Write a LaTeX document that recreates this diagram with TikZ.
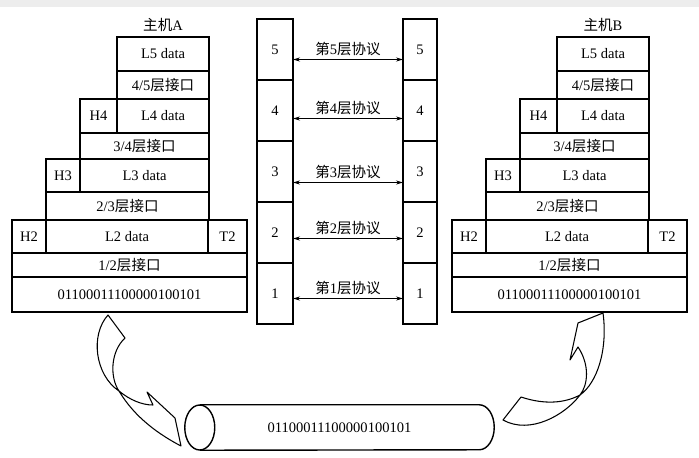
\documentclass[tikz,border=0pt]{standalone}
\usepackage{fontspec}
\setmainfont{Liberation Serif}
\newfontfamily\cjk{Noto Sans CJK SC}
\usetikzlibrary{arrows.meta, positioning}
\newdimen\pxu \pxu=0.3mm

\begin{document}
\begin{tikzpicture}[x=0.3mm, y=-0.3mm, font=\fontsize{12.4}{14}\selectfont]
% Define styles
\tikzstyle{cell} = [rectangle, draw, line width=1.2pt, inner sep=0pt, outer sep=0pt, anchor=north west, text centered]
\tikzstyle{layer} = [cell, minimum width=36\pxu, minimum height=61\pxu]
\tikzstyle{proto} = [{Stealth[length=6pt,width=3.5pt]}-{Stealth[length=6pt,width=3.5pt]}, line width=0.8pt]
\tikzstyle{bigarrow} = [draw, line width=0.9pt, line join=round]

\useasboundingbox (0,0) rectangle (699,457);
\fill[white] (0,0) rectangle (699,457);
\fill[black!7] (0,0) rectangle (699,7);

% Host stacks
\foreach \h/\dx in {A/0, B/440} {
\begin{scope}[xshift=\dx*0.3mm]
\node (\h l5) [cell, minimum width=92\pxu, minimum height=34\pxu] at (117,37) {L5 data};
\node (\h i45) [cell, minimum width=92\pxu, minimum height=28\pxu] at (117,71) {4/5{\cjk 层接口}};
\node (\h h4) [cell, minimum width=37\pxu, minimum height=34\pxu] at (80,99) {H4};
\node (\h l4) [cell, minimum width=92\pxu, minimum height=34\pxu] at (117,99) {L4 data};
\node (\h i34) [cell, minimum width=129\pxu, minimum height=26\pxu] at (80,133) {3/4{\cjk 层接口}};
\node (\h h3) [cell, minimum width=34\pxu, minimum height=33\pxu] at (46,159) {H3};
\node (\h l3) [cell, minimum width=129\pxu, minimum height=33\pxu] at (80,159) {L3 data};
\node (\h i23) [cell, minimum width=163\pxu, minimum height=28\pxu] at (46,192) {2/3{\cjk 层接口}};
\node (\h h2) [cell, minimum width=34\pxu, minimum height=33\pxu] at (12,220) {H2};
\node (\h l2) [cell, minimum width=162\pxu, minimum height=33\pxu] at (46,220) {L2 data};
\node (\h t2) [cell, minimum width=39\pxu, minimum height=33\pxu] at (208,220) {T2};
\node (\h i12) [cell, minimum width=235\pxu, minimum height=24\pxu] at (12,253) {1/2{\cjk 层接口}};
\node (\h bits) [cell, minimum width=235\pxu, minimum height=35\pxu] at (12,277) {01100011100000100101};
\node (\h name) [above=4pt of \h l5.north, inner sep=0pt] {{\cjk 主机}\h};
\end{scope}
}

% Layer columns
\foreach \n [count=\i] in {5,4,3,2,1} {
\node (L\n) [layer] at (257,{19+61*(\i-1)}) {\n};
\node (R\n) [layer, minimum width=34\pxu] at (403,{19+61*(\i-1)}) {\n};
}

% Peer protocols
\foreach \n/\dy in {5/10, 4/8, 3/11, 2/6, 1/5} {
\draw[proto] ([yshift=-\dy\pxu]L\n.east) -- ([yshift=-\dy\pxu]R\n.west)
  node[midway, above=3pt, inner sep=0pt] {{\cjk 第}\n{\cjk 层协议}};
}

% Physical medium (cylinder)
\node (wire) [minimum width=309\pxu, minimum height=45\pxu, inner sep=0pt] at (339.5,427.5) {01100011100000100101};
\draw[line width=1.2pt] ([xshift=15\pxu]wire.west) ellipse [x radius=15\pxu, y radius=22.5\pxu];
\draw[line width=1.2pt] ([xshift=15\pxu]wire.north west) -- ([xshift=-15\pxu]wire.north east)
  arc[start angle=90, end angle=-90, x radius=15\pxu, y radius=22.5\pxu] -- ([xshift=15\pxu]wire.south west);

% Curved arrows
\path[bigarrow] (108,315) .. controls (90,335) and (95,375) .. (119,391)
  .. controls (130,400) and (142,405) .. (153,405) -- (147,392) -- (175,418) -- (181,446)
  .. controls (160,435) and (135,418) .. (119,391)
  .. controls (110,378) and (110,352) .. (125,338) -- cycle;
\path[bigarrow] (503,420) -- (521,397) .. controls (545,405) and (565,403) .. (580,395)
  .. controls (597,383) and (608,350) .. (603,313) -- (578,323) -- (570,360) -- (578,347)
  .. controls (590,365) and (588,385) .. (580,395)
  .. controls (565,415) and (530,435) .. (503,420) -- cycle;

\end{tikzpicture}
\end{document}
